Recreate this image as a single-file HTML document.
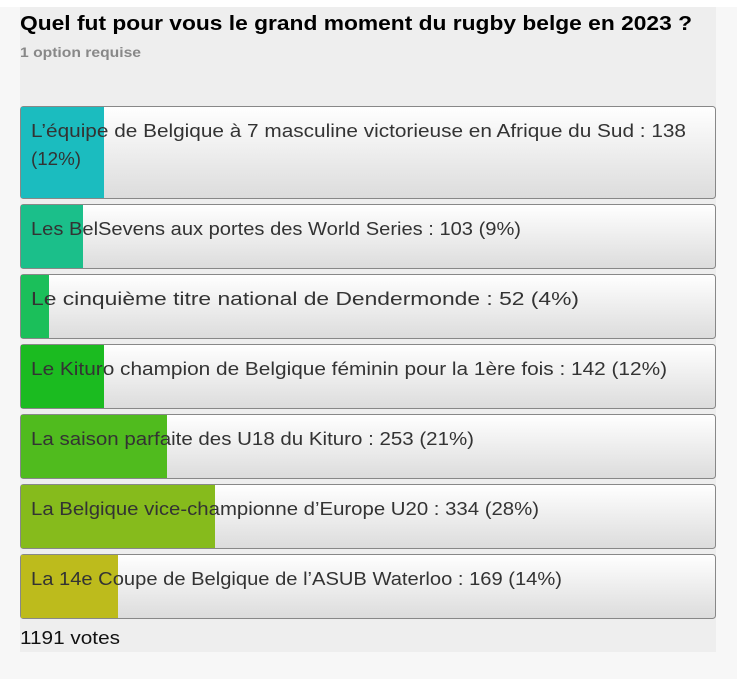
<!DOCTYPE html>
<html><head><meta charset="utf-8"><style>
html,body{margin:0;padding:0;background:#f7f7f7;}
svg{display:block;}
text{font-family:"Liberation Sans",sans-serif;}
</style></head><body>
<svg width="737" height="679" xmlns="http://www.w3.org/2000/svg">
<defs>
<linearGradient id="g" x1="0" y1="0" x2="0" y2="1"><stop offset="0" stop-color="#ffffff"/><stop offset="1" stop-color="#dcdcdc"/></linearGradient>
</defs>
<rect x="0" y="0" width="737" height="679" fill="#f7f7f7"/>
<rect x="0" y="0" width="737" height="7" fill="#ffffff"/>
<rect x="20" y="7" width="696" height="645" fill="#eeeeee"/>
<text x="20" y="30" font-size="20" font-weight="bold" fill="#000" textLength="672" lengthAdjust="spacingAndGlyphs">Quel fut pour vous le grand moment du rugby belge en 2023 ?</text>
<text x="20" y="57" font-size="14" font-weight="bold" fill="#888" textLength="121" lengthAdjust="spacingAndGlyphs">1 option requise</text>

<g stroke="#888" stroke-width="1">
<rect x="20.5" y="106.5" width="695" height="92" rx="3" fill="url(#g)"/>
<rect x="20.5" y="204.5" width="695" height="64" rx="3" fill="url(#g)"/>
<rect x="20.5" y="274.5" width="695" height="64" rx="3" fill="url(#g)"/>
<rect x="20.5" y="344.5" width="695" height="64" rx="3" fill="url(#g)"/>
<rect x="20.5" y="414.5" width="695" height="64" rx="3" fill="url(#g)"/>
<rect x="20.5" y="484.5" width="695" height="64" rx="3" fill="url(#g)"/>
<rect x="20.5" y="554.5" width="695" height="64" rx="3" fill="url(#g)"/>
</g>
<rect x="21" y="107" width="83" height="91" fill="#1bbcbf"/>
<rect x="21" y="205" width="62" height="63" fill="#1bbf8a"/>
<rect x="21" y="275" width="28" height="63" fill="#1bbf5a"/>
<rect x="21" y="345" width="83" height="63" fill="#1bbb20"/>
<rect x="21" y="415" width="146" height="63" fill="#50bb1e"/>
<rect x="21" y="485" width="194" height="63" fill="#86bb1c"/>
<rect x="21" y="555" width="97" height="63" fill="#bdbb1c"/>

<g font-size="18" fill="#333">
<text x="31" y="137" textLength="655" lengthAdjust="spacingAndGlyphs">L’équipe de Belgique à 7 masculine victorieuse en Afrique du Sud : 138</text>
<text x="31" y="165" textLength="50" lengthAdjust="spacingAndGlyphs">(12%)</text>
<text x="31" y="235" textLength="490" lengthAdjust="spacingAndGlyphs">Les BelSevens aux portes des World Series : 103 (9%)</text>
<text x="31" y="305" textLength="548" lengthAdjust="spacingAndGlyphs">Le cinquième titre national de Dendermonde : 52 (4%)</text>
<text x="31" y="375" textLength="636" lengthAdjust="spacingAndGlyphs">Le Kituro champion de Belgique féminin pour la 1ère fois : 142 (12%)</text>
<text x="31" y="445" textLength="443" lengthAdjust="spacingAndGlyphs">La saison parfaite des U18 du Kituro : 253 (21%)</text>
<text x="31" y="515" textLength="508" lengthAdjust="spacingAndGlyphs">La Belgique vice-championne d’Europe U20 : 334 (28%)</text>
<text x="31" y="585" textLength="531" lengthAdjust="spacingAndGlyphs">La 14e Coupe de Belgique de l’ASUB Waterloo : 169 (14%)</text>
</g>
<text x="20" y="644" font-size="18" fill="#111" textLength="100" lengthAdjust="spacingAndGlyphs">1191 votes</text>
</svg>
</body></html>
